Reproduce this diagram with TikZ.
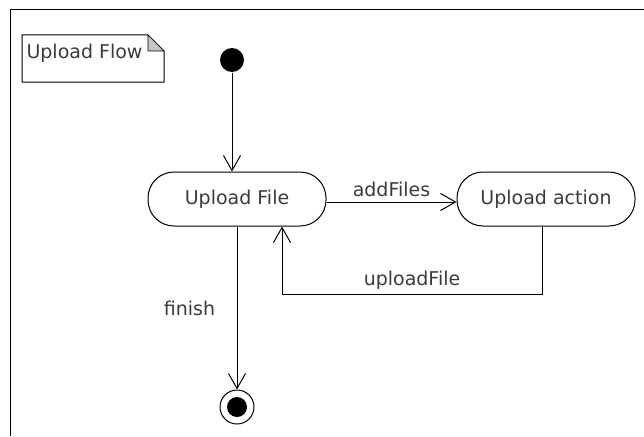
\documentclass[tikz,border=0pt]{standalone}
\usepackage{fontspec}
\setmainfont{DejaVu Sans}
\usetikzlibrary{arrows.meta}
\definecolor{txtgray}{HTML}{3A3A3A}
\tikzset{
    state/.style={draw, rounded corners=26pt, minimum width=178pt, minimum height=54pt,
        text=txtgray, font=\fontsize{19}{21}\selectfont},
    lbl/.style={text=txtgray, font=\fontsize{19}{21}\selectfont}
}
\begin{document}
\begin{tikzpicture}[x=1pt, y=-1pt, line width=1pt,
    >={Straight Barb[length=15pt, width=17pt, line width=1pt]}]
    \useasboundingbox (0,0) rectangle (644,436);
    % frame
    \draw (10,436)--(10,10)--(644,10);
    % note
    \draw (22,35)--(148,35)--(164,51)--(164,82)--(22,82)--cycle;
    \filldraw[fill=gray!45, line width=.6pt] (148,35)--(148,51)--(164,51)--cycle;
    \node[lbl, anchor=west, inner sep=0pt] (title) at (26,53) {Upload Flow};

    \node[circle, fill, inner sep=0pt, minimum size=24pt] (init) at (232,60) {};
    \node[state] (uf) at (237,199) {Upload File};
    \node[state] (ua) at (546,199) {Upload action};
    \node[circle, draw, line width=1pt, inner sep=0pt, minimum size=34pt] (end) at (237,407) {};
    \node[circle, fill, inner sep=0pt, minimum size=20pt] at (end) {};
    \coordinate (back) at (282,294);

    \draw[->] (init)--(init |- uf.north);
    \draw[->] ([yshift=-3pt]uf.east)--node[lbl, above=1pt]{addFiles}([yshift=-3pt]ua.west);
    \draw[->] ([xshift=-4pt]ua.south)|-node[lbl, above=1pt, pos=.75]{uploadFile}(back)--(back |- uf.south);
    \draw[->] (uf.south)--node[lbl, left=18pt, pos=.5]{finish}(end.north);

\end{tikzpicture}
\end{document}
